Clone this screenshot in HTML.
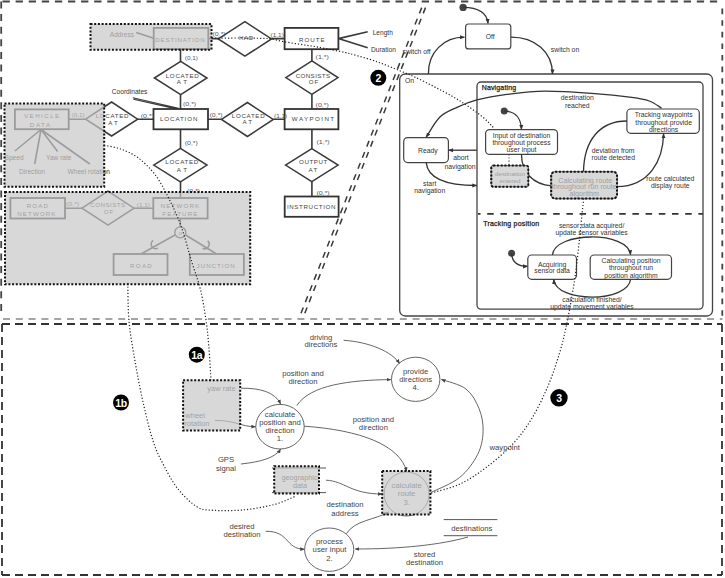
<!DOCTYPE html>
<html><head><meta charset="utf-8"><title>diagram</title>
<style>
html,body{margin:0;padding:0;background:#fff;width:725px;height:578px;overflow:hidden}
svg{display:block;font-family:"Liberation Sans",sans-serif}
.b{fill:#fff;stroke:#333;stroke-width:1.8}
.d{fill:#fff;stroke:#3a3a3a;stroke-width:1.5}
.l{stroke:#3a3a3a;stroke-width:1.6;fill:none}
.t{fill:#444;font-size:6.2px;text-anchor:middle}
.s{fill:#555;font-size:6px;text-anchor:start}
.a{fill:#333;font-size:6.6px}
.g{fill:rgba(200,200,200,0.7);stroke:#111;stroke-width:2;stroke-dasharray:2 1.7}
.st{fill:#fff;stroke:#444;stroke-width:1.2}
.sl{stroke:#333;stroke-width:1.3;fill:none}
.sx{fill:#333;font-size:6.8px;text-anchor:middle}
.fl{stroke:#555;stroke-width:0.9;fill:none}
.fx{fill:#444;font-size:7.7px;text-anchor:middle}
.dot{stroke:#222;stroke-width:1.2;fill:none;stroke-dasharray:1.2 2}
.bg{fill:#000}
.bt{fill:#fff;font-size:10.5px;font-weight:bold;text-anchor:middle;letter-spacing:-0.3px}
</style></head>
<body>
<svg width="725" height="578" viewBox="0 0 725 578">
<defs>
<marker id="ah" viewBox="0 0 10 10" refX="9" refY="5" markerWidth="3.9" markerHeight="3.9" orient="auto-start-reverse"><path d="M0 1 L10 5 L0 9 z" fill="#333"/></marker>
<marker id="ahs" viewBox="0 0 10 10" refX="9" refY="5" markerWidth="5.2" markerHeight="5.2" orient="auto-start-reverse"><path d="M0 1 L10 5 L0 9 z" fill="#444"/></marker>
</defs>

<!-- outer frames -->
<g stroke-width="1.8" stroke-dasharray="8 5" fill="none">
<path d="M1.5 1.5 H722.5" stroke="#444" stroke-dasharray="7.3 5.8" stroke-dashoffset="-1"/>
<path d="M1.2 1.5 V313" stroke="#444" stroke-dasharray="7 5.6"/>
<path d="M722.3 8.6 V318" stroke="#444" stroke-dasharray="5.6 6"/>
<path d="M3 319 H722.5" stroke="#888" stroke-width="1.5" stroke-dasharray="7 5.8"/>
<path d="M2 324 H722" stroke="#333"/>
<path d="M2 324 V575" stroke="#333"/>
<path d="M722 324 V575" stroke="#333"/>
<path d="M2 575 H722" stroke="#333"/>
</g>

<!-- ===== ER diagram ===== -->
<g id="er">
<!-- connecting lines -->
<path class="l" d="M180.5 49 V61.5 M180.5 94.5 V109 M180.5 129.3 V148.4 M180.5 181.9 V198 M208 119.3 H221.5 M273.3 119.3 H284.6 M311.9 49.2 V61 M311.9 94.4 V109 M311.9 129.3 V148.6 M311.9 181.6 V196.5 M208.3 38.6 H218.3 M271.5 38.6 H284.6 M68.7 119.2 H85.6 M137.7 119.2 H153.5 M65 208.2 H82 M134 208.2 H153.3 M180.3 218.5 V226.9 M175 235 L141 254 M185.6 235 L216.6 254"/>
<path class="l" d="M338.4 38.6 L367.7 31.8 M338.4 38.6 L367.7 47.7 M41 129.5 L14.9 151 M41 129.5 L34.7 164 M41 129.5 L57.6 151.5 M41 129.5 L89.8 164 M136.2 32.5 L153.7 38.3" stroke-width="1.2"/>
<path d="M132.8 97.8 L178.5 108.2 M133.5 99.3 L178.5 109.4" stroke="#3a3a3a" stroke-width="1.1" fill="none"/>
<circle cx="180.3" cy="232.4" r="5.5" fill="#fff" stroke="#3a3a3a" stroke-width="1.4"/>
<path class="l" d="M157.9 248.1 A4.5 4.5 0 0 1 153.1 240.5 M202.6 248.2 A4.5 4.5 0 0 0 207.6 240.8" stroke-width="1.3"/>
<text x="180.3" y="234.5" font-size="5.5" fill="#3a3a3a" text-anchor="middle">o</text>

<!-- entities -->
<rect class="b" x="153.7" y="27.9" width="54.6" height="21.1"/>
<rect class="b" x="153.5" y="109" width="54.5" height="20.3"/>
<rect class="b" x="284.6" y="27.9" width="53.8" height="21.3"/>
<rect class="b" x="284.6" y="109" width="53.8" height="20.3"/>
<rect class="b" x="284.7" y="196.5" width="53.9" height="20.3"/>
<rect class="b" x="14.9" y="109.4" width="53.8" height="19.8"/>
<rect class="b" x="153.3" y="198" width="54.3" height="20.5"/>
<rect class="b" x="10.4" y="198" width="54.6" height="20.5"/>
<rect class="b" x="113.6" y="254" width="53.9" height="21"/>
<rect class="b" x="189.8" y="254" width="54.1" height="21"/>

<!-- relationships -->
<path class="d" d="M154.4 78 L180.7 61.4 L207 78 L180.7 94.6 Z"/>
<path class="d" d="M85.6 119.2 L111.6 102 L137.7 119.2 L111.6 136 Z"/>
<path class="d" d="M221.5 119.4 L247.4 102.5 L273.3 119.4 L247.4 136.5 Z"/>
<path class="d" d="M285.8 77.6 L311.9 60.9 L338 77.6 L311.9 94.4 Z"/>
<path class="d" d="M153.7 165.1 L180.4 148.4 L207 165.1 L180.4 181.9 Z"/>
<path class="d" d="M285.5 165.1 L311.8 148.6 L338.1 165.1 L311.8 181.6 Z"/>
<path class="d" d="M218.3 38.9 L244.9 21.7 L271.5 38.9 L244.9 56.2 Z"/>
<path class="d" d="M82 208.2 L108 191.2 L134 208.2 L108 225.2 Z"/>

<!-- entity text -->
<g class="t">
<text x="179.9" y="42.2" textLength="49.5" lengthAdjust="spacing">DESTINATION</text>
<text x="178.7" y="121.1" textLength="37.4" lengthAdjust="spacing">LOCATION</text>
<text x="311.9" y="41.7" textLength="25.7" lengthAdjust="spacing">ROUTE</text>
<text x="313.0" y="121.1" textLength="42.3" lengthAdjust="spacing">WAYPOINT</text>
<text x="311.2" y="209.3" textLength="48.6" lengthAdjust="spacing">INSTRUCTION</text>
<text x="41.6" y="117.6" textLength="35.2" lengthAdjust="spacing">VEHICLE</text>
<text x="40.0" y="126.5" textLength="20.3" lengthAdjust="spacing">DATA</text>
<text x="179.9" y="207.9" textLength="38.7" lengthAdjust="spacing">NETWORK</text>
<text x="179.8" y="215.5" textLength="35.1" lengthAdjust="spacing">FEATURE</text>
<text x="37.3" y="207.5" textLength="21.2" lengthAdjust="spacing">ROAD</text>
<text x="36.4" y="215.5" textLength="38.2" lengthAdjust="spacing">NETWORK</text>
<text x="140.9" y="268.3" textLength="21.8" lengthAdjust="spacing">ROAD</text>
<text x="215.7" y="268.3" textLength="38.2" lengthAdjust="spacing">JUNCTION</text>
<text x="182.2" y="77.5" textLength="33.0" lengthAdjust="spacing">LOCATED</text>
<text x="181.9" y="83.6" textLength="10.5" lengthAdjust="spacing">AT</text>
<text x="112.1" y="117.6" textLength="32.8" lengthAdjust="spacing">LOCATED</text>
<text x="113.0" y="124.5" textLength="9.6" lengthAdjust="spacing">AT</text>
<text x="248.2" y="117.7" textLength="32.9" lengthAdjust="spacing">LOCATED</text>
<text x="247.3" y="124.2" textLength="9.6" lengthAdjust="spacing">AT</text>
<text x="312.9" y="77.6" textLength="34.4" lengthAdjust="spacing">CONSISTS</text>
<text x="313.6" y="83.6" textLength="9.6" lengthAdjust="spacing">OF</text>
<text x="181.8" y="163.8" textLength="32.9" lengthAdjust="spacing">LOCATED</text>
<text x="181.9" y="171.6" textLength="10.5" lengthAdjust="spacing">AT</text>
<text x="313.2" y="163.8" textLength="28.4" lengthAdjust="spacing">OUTPUT</text>
<text x="312.9" y="171.9" textLength="8.7" lengthAdjust="spacing">AT</text>
<text x="246.1" y="40.1" textLength="14.4" lengthAdjust="spacing">HAD</text>
<text x="107.7" y="207.3" textLength="34.8" lengthAdjust="spacing">CONSISTS</text>
<text x="108.6" y="214.2" textLength="9.6" lengthAdjust="spacing">OF</text>
</g>
<g class="s">
<text x="184.8" y="59.6" textLength="13.2" lengthAdjust="spacingAndGlyphs">(0,1)</text>
<text x="183" y="105.5" textLength="13.2" lengthAdjust="spacingAndGlyphs">(0,*)</text>
<text x="184.7" y="144.5" textLength="13.2" lengthAdjust="spacingAndGlyphs">(0,*)</text>
<text x="187" y="193" textLength="13.2" lengthAdjust="spacingAndGlyphs">(0,*)</text>
<text x="209.5" y="117" textLength="13.2" lengthAdjust="spacingAndGlyphs">(0,*)</text>
<text x="274" y="117.5" textLength="13.2" lengthAdjust="spacingAndGlyphs">(1,1)</text>
<text x="315.6" y="58.9" textLength="13.2" lengthAdjust="spacingAndGlyphs">(1,*)</text>
<text x="315.6" y="106.8" textLength="13.2" lengthAdjust="spacingAndGlyphs">(0,*)</text>
<text x="316.5" y="144.2" textLength="13.2" lengthAdjust="spacingAndGlyphs">(1,*)</text>
<text x="316.5" y="195" textLength="13.2" lengthAdjust="spacingAndGlyphs">(0,*)</text>
<text x="212.5" y="35.8" textLength="13.2" lengthAdjust="spacingAndGlyphs">(0,*)</text>
<text x="270.6" y="37.3" textLength="13.2" lengthAdjust="spacingAndGlyphs">(1,1)</text>
<text x="71.5" y="116.6" textLength="13.2" lengthAdjust="spacingAndGlyphs">(0,1)</text>
<text x="140.8" y="117.8" textLength="13.2" lengthAdjust="spacingAndGlyphs">(0,*)</text>
<text x="66" y="206" textLength="13.2" lengthAdjust="spacingAndGlyphs">(0,*)</text>
<text x="136.8" y="206.8" textLength="13.2" lengthAdjust="spacingAndGlyphs">(1,1)</text>
</g>
<g class="a">
<text x="111.8" y="93.6">Coordinates</text>
<text x="372.7" y="34.6">Length</text>
<text x="371" y="51.5">Duration</text>
<text x="109.8" y="36.6">Address</text>
<text x="4.5" y="159.8">Speed</text>
<text x="46" y="159.8">Yaw rate</text>
<text x="19" y="173.7">Direction</text>
<text x="67.5" y="173.7">Wheel rotation</text>
</g>
</g>

<!-- grey overlays ER -->
<rect class="g" x="90.5" y="24.1" width="121" height="25.6"/>
<rect class="g" x="4.5" y="103.6" width="99.7" height="83.2"/>
<rect class="g" x="5" y="192" width="245.2" height="92.2"/>

<!-- STATE -->
<g id="state">
<!-- double dashed diagonal -->
<path d="M421.7 7.6 L299.9 316 M425.5 7.6 L303.7 316" stroke="#3a3a3a" stroke-width="1.5" stroke-dasharray="6.2 5.74" fill="none"/>
<rect x="399.7" y="74" width="312.8" height="242" rx="5.5" fill="none" stroke="#444" stroke-width="1.3"/>
<rect x="477" y="82" width="226" height="227.1" rx="4" fill="none" stroke="#444" stroke-width="1.3"/>
<path d="M478 213.9 H703" stroke="#333" stroke-width="1.7" stroke-dasharray="6.5 6.7" stroke-dashoffset="4" fill="none"/>
<circle cx="463.1" cy="7.4" r="3.7" fill="#444"/>
<path class="sl" d="M463.1 7.4 C478 7.5 487 13 488 23.4" marker-end="url(#ah)"/>
<rect class="st" x="465.6" y="24" width="45.2" height="24.9" rx="3"/>
<text class="sx" x="490.3" y="38.8">Off</text>
<path class="sl" d="M428.4 74 C428 52 444 37.2 464.4 37.2" marker-end="url(#ah)"/>
<path class="sl" d="M511 37.2 C535 37.2 552.5 52 552.5 74" marker-end="url(#ah)"/>
<text class="sx" x="416.6" y="54">switch off</text>
<text class="sx" x="565" y="52">switch on</text>
<text class="sx" x="409.5" y="82.5">On</text>
<text class="sx" x="499" y="89.6" style="font-size:7px;letter-spacing:0.15px;fill:#222;stroke:#222;stroke-width:0.25px">Navigating</text>
<text class="sx" x="511.3" y="225.8" style="font-size:7px;letter-spacing:0.2px;fill:#222;stroke:#222;stroke-width:0.25px">Tracking position</text>

<rect class="st" x="403.7" y="137.6" width="44.7" height="25" rx="4"/>
<text class="sx" x="427.8" y="152.8">Ready</text>
<path class="sl" d="M661.6 108.2 C659.5 107.0 654.2 102.8 649.2 101.0 C644.2 99.2 640.9 98.6 631.8 97.4 C622.7 96.2 609.1 94.6 594.6 93.6 C580.1 92.6 559.6 91.1 545.0 91.2 C530.4 91.3 518.0 93.0 506.7 94.4 C495.3 95.9 485.2 97.8 476.9 99.9 C468.6 102.1 463.2 104.4 457.0 107.3 C450.8 110.2 444.8 112.2 439.7 117.2 C434.6 122.2 428.4 133.9 426.2 137.2" marker-end="url(#ah)"/>
<text class="sx" x="577.3" y="99.8">destination</text>
<text class="sx" x="577.3" y="108">reached</text>
<path class="sl" d="M476.9 150.2 H448.6" marker-end="url(#ah)"/>
<text class="sx" x="461" y="160.2">abort</text>
<text class="sx" x="460" y="168.6">navigation</text>
<path class="sl" d="M426.2 162.6 C428 180 450 185.5 476.8 185.5" marker-end="url(#ah)"/>
<text class="sx" x="429.7" y="186.3">start</text>
<text class="sx" x="429.7" y="192.5">navigation</text>

<circle cx="504.2" cy="111" r="3.5" fill="#444"/>
<path class="sl" d="M504.2 111 C515 111 521 118 521.5 129.4" marker-end="url(#ah)"/>
<rect class="st" x="485.6" y="129.6" width="71.9" height="24.8" rx="4"/>
<text class="sx" x="521.5" y="138">Input of destination</text>
<text class="sx" x="521.5" y="144.8">throughout process</text>
<text class="sx" x="521.5" y="151.7">user input</text>
<path d="M509 154.4 V165.6" stroke="#333" stroke-width="1.1" stroke-dasharray="1.1 2" fill="none"/>
<path class="sl" d="M521.5 154.4 C521.5 172 533 184.5 551.5 185.8"/>

<rect class="st" x="626.9" y="109" width="72.4" height="24.3" rx="4"/>
<text class="sx" x="663.6" y="116.5">Tracking waypoints</text>
<text class="sx" x="663.6" y="124.9">throughout provide</text>
<text class="sx" x="663.6" y="131.6">directions</text>
<path class="sl" d="M626.9 121 C600 121 584 140 583.5 171.8"/>
<text class="sx" x="613.2" y="153">deviation from</text>
<text class="sx" x="613.2" y="160.4">route detected</text>
<path class="sl" d="M617 186.7 C650 186 663 160 663.6 133.8" marker-end="url(#ah)"/>
<text class="sx" x="670.3" y="180.8">route calculated</text>
<text class="sx" x="670.3" y="188.2">display route</text>

<rect class="st" x="551.2" y="171.8" width="65.8" height="26.8" rx="4"/>
<text class="sx" x="585.3" y="182.5" style="font-size:7.2px">Calculating route</text>
<text class="sx" x="584.3" y="188.6" style="font-size:7.2px">throughout run route</text>
<text class="sx" x="584.3" y="195.5" style="font-size:7.2px">algorithm</text>
<rect class="st" x="491.3" y="165.6" width="37" height="21.1" rx="2"/>
<text class="sx" x="510" y="176" style="font-size:6.2px">destination</text>
<text class="sx" x="510" y="183.3" style="font-size:6.2px">entered</text>

<circle cx="511.6" cy="253.3" r="3.5" fill="#444"/>
<path class="sl" d="M511.6 253.3 C512 262 518 266.4 527.6 266.4" marker-end="url(#ah)"/>
<rect class="st" x="527.8" y="255" width="48.7" height="24.3" rx="4"/>
<text class="sx" x="552.1" y="266.6">Acquiring</text>
<text class="sx" x="552.1" y="272.8">sensor data</text>
<rect class="st" x="590.2" y="255" width="81.3" height="24.3" rx="4"/>
<text class="sx" x="631" y="262.9">Calculating position</text>
<text class="sx" x="631" y="270.4">throughout run</text>
<text class="sx" x="631" y="278.3">position algorithm</text>
<path class="sl" d="M552.4 255 C555 231 628 231 630.6 254.8" marker-end="url(#ah)"/>
<path class="sl" d="M630.6 279.3 C628 303 556 303 553.7 279.5" marker-end="url(#ah)"/>
<text class="sx" x="591.6" y="227.7">sensor data acquired/</text>
<text class="sx" x="591.6" y="234.9">update sensor variables</text>
<text class="sx" x="592" y="302.4">calculation finished/</text>
<text class="sx" x="592" y="309.1">update movement variables</text>
</g>
<!-- dotted cross links -->
<path class="dot" d="M212.0 38.2 C216.7 38.2 231.7 38.0 240.0 38.0 C248.3 38.0 256.8 38.2 262.0 38.4 C267.2 38.5 267.5 38.4 271.0 38.9 C274.5 39.4 278.2 40.6 283.0 41.5 C287.8 42.4 294.2 43.4 300.0 44.3 C305.8 45.2 310.5 45.7 318.0 47.1 C325.5 48.5 339.1 51.2 345.0 52.5 C350.9 53.8 348.1 53.1 353.4 54.6 C358.7 56.1 369.1 59.0 376.9 61.7 C384.7 64.4 394.1 68.5 400.3 71.0 C406.6 73.5 408.5 74.2 414.4 76.9 C420.3 79.6 428.1 83.5 435.5 87.4 C442.9 91.3 451.2 95.4 459.0 100.3 C466.8 105.2 476.5 112.1 482.4 116.8 C488.2 121.5 492.2 126.5 494.1 128.5"/>
<path class="dot" d="M583.7 198.6 C583.4 201.2 582.7 207.6 582.0 214.2 C581.3 220.8 580.6 229.1 579.6 238.4 C578.6 247.7 577.2 260.5 576.0 269.8 C574.8 279.1 573.9 284.8 572.3 294.0 C570.7 303.2 568.6 315.2 566.5 325.0 C564.4 334.8 562.7 342.8 559.6 352.9 C556.5 363.0 552.8 374.8 548.1 385.7 C543.5 396.6 537.7 408.8 531.7 418.6 C525.7 428.5 519.7 436.6 512.0 444.8 C504.3 453.0 494.5 461.2 485.7 467.8 C476.9 474.4 468.5 480.1 459.4 484.3 C450.3 488.5 435.7 491.6 431.0 493.0"/>
<path class="dot" d="M104.2 145.3 C107.0 145.9 115.1 146.9 120.7 149.0 C126.3 151.1 132.2 153.4 138.0 157.7 C143.8 162.0 150.1 168.1 155.3 175.0 C160.5 181.9 164.9 190.6 169.2 199.2 C173.5 207.8 177.6 216.4 181.3 226.8 C185.0 237.2 188.4 251.0 191.6 261.4 C194.8 271.8 197.9 279.3 200.3 289.0 C202.7 298.7 204.5 309.9 205.9 319.5 C207.3 329.1 208.0 336.3 208.8 346.4 C209.7 356.5 210.6 374.6 211.0 380.3"/>
<path class="dot" d="M127.8 283.5 C128.0 289.8 127.8 308.2 129.0 321.5 C130.2 334.8 132.9 349.1 135.3 363.0 C137.7 376.9 140.6 391.4 143.6 404.6 C146.6 417.8 150.1 432.1 153.5 442.3 C156.9 452.5 159.9 458.0 164.0 465.8 C168.1 473.6 172.6 482.4 178.1 489.2 C183.6 496.0 191.0 503.3 196.9 506.8 C202.8 510.3 205.5 509.8 213.3 510.3 C221.1 510.8 233.6 510.9 243.8 509.9 C254.0 508.9 265.7 506.8 274.3 504.5 C282.9 502.2 291.9 497.7 295.4 496.3"/>
<!-- grey overlays state -->
<rect class="g" x="491.3" y="165.6" width="37" height="21.1" rx="2"/>
<rect class="g" x="551.2" y="171.8" width="65.8" height="26.8" rx="4"/>
<!-- badges -->
<circle class="bg" cx="378.3" cy="77.8" r="8"/><text class="bt" x="378.3" y="82.0">2</text>
<!-- DFD -->
<g id="dfd">
<ellipse cx="280" cy="426.7" rx="24.2" ry="22.3" fill="#fff" stroke="#555" stroke-width="0.9"/>
<ellipse cx="415.7" cy="379.3" rx="24.2" ry="22.1" fill="#fff" stroke="#555" stroke-width="0.9"/>
<ellipse cx="329.2" cy="549.7" rx="24.6" ry="21.7" fill="#fff" stroke="#555" stroke-width="0.9"/>
<ellipse cx="406.6" cy="494" rx="22.5" ry="22" fill="#fff" stroke="#555" stroke-width="0.9"/>
<g class="fx">
<text x="280" y="416.6">calculate</text>
<text x="280" y="424.5">position and</text>
<text x="280" y="432.5">direction</text>
<text x="280" y="440.9">1.</text>
<text x="415.6" y="373.9">provide</text>
<text x="415.6" y="381.9">directions</text>
<text x="415.6" y="389.8">4.</text>
<text x="329.5" y="544">process</text>
<text x="329.5" y="552">user input</text>
<text x="329.5" y="560.9">2.</text>
<text x="406.6" y="488.1">calculate</text>
<text x="406.6" y="496.3">route</text>
<text x="406.6" y="505.3">3.</text>
<text x="321" y="339.7">driving</text>
<text x="321" y="347.1">directions</text>
<text x="303" y="376.3">position and</text>
<text x="303" y="384.3">direction</text>
<text x="373.4" y="422.3">position and</text>
<text x="373.4" y="430.3">direction</text>
<text x="226" y="461.7">GPS</text>
<text x="226" y="470.8">signal</text>
<text x="345" y="507.3">destination</text>
<text x="345" y="515.5">address</text>
<text x="242" y="529.1">desired</text>
<text x="242" y="537.1">destination</text>
<text x="424.5" y="557">stored</text>
<text x="424.5" y="564.9">destination</text>
<text x="504.7" y="450.1">waypoint</text>
<text x="471.8" y="530.9">destinations</text>
</g>
<path class="fl" d="M343.6 340.3 C370 342 392 352 399.5 363.4" marker-end="url(#ahs)"/>
<path class="fl" d="M296.8 405.6 C310 385 350 380 390.8 379.6" marker-end="url(#ahs)"/>
<path class="fl" d="M304.2 426.2 C360 430 400 445 406.6 471.5" marker-end="url(#ahs)"/>
<path class="fl" d="M241 388.2 C260 388 275 392 280.6 404" marker-end="url(#ahs)"/>
<path class="fl" d="M215 420.5 C235 420 240 426.7 255.6 426.7" marker-end="url(#ahs)"/>
<path class="fl" d="M240.9 464 C260 462 275 458 280.6 449.2" marker-end="url(#ahs)"/>
<path class="fl" d="M326 480.2 C345 481 350 494 382.2 494" marker-end="url(#ahs)"/>
<path class="fl" d="M346.4 533.7 C355 520 375 520 388.6 512" marker-end="url(#ahs)"/>
<path class="fl" d="M265.7 531.3 C290 531 285 549.2 304.4 549.2" marker-end="url(#ahs)"/>
<path class="fl" d="M468 537 C440 545 400 549 355.2 549" marker-end="url(#ahs)"/>
<path class="fl" d="M430.9 492.5 C435.6 490.0 451.6 484.0 459.4 477.7 C467.2 471.4 473.6 462.4 477.5 454.7 C481.4 447.0 482.8 439.4 483.1 431.7 C483.4 424.0 482.0 415.8 479.1 408.7 C476.2 401.6 472.3 393.9 466.0 389.0 C459.7 384.1 445.5 381.0 441.4 379.4" marker-end="url(#ahs)"/>
<path d="M272 468 H326 M272 492.6 H326 M443.7 519.6 H497.4 M443.7 535.7 H497.4" stroke="#555" stroke-width="1" fill="none"/>
<g class="fx" style="font-size:7.5px">
<text x="235.6" y="390.5" style="text-anchor:end">yaw rate</text>
<text x="185.3" y="417.6" style="text-anchor:start">wheel</text>
<text x="184.3" y="426.4" style="text-anchor:start">rotation</text>
<text x="299.5" y="480" style="font-size:7.3px">geographic</text>
<text x="300" y="487.6" style="font-size:7.3px">data</text>
</g>
</g>
<!-- grey overlays DFD -->
<rect class="g" x="183.1" y="380.3" width="57.1" height="50.1"/>
<rect class="g" x="274.2" y="466.2" width="44.8" height="27.4"/>
<rect class="g" x="382.2" y="471" width="48.2" height="43.5"/>
<!-- badges DFD -->
<circle class="bg" cx="196.8" cy="354.7" r="8"/><text class="bt" x="196.8" y="358.9">1a</text>
<circle class="bg" cx="121.0" cy="402.5" r="8"/><text class="bt" x="121.0" y="406.7">1b</text>
<circle class="bg" cx="559.0" cy="397.8" r="8.7"/><text class="bt" x="559.0" y="402.0">3</text>
</svg>
</body></html>
